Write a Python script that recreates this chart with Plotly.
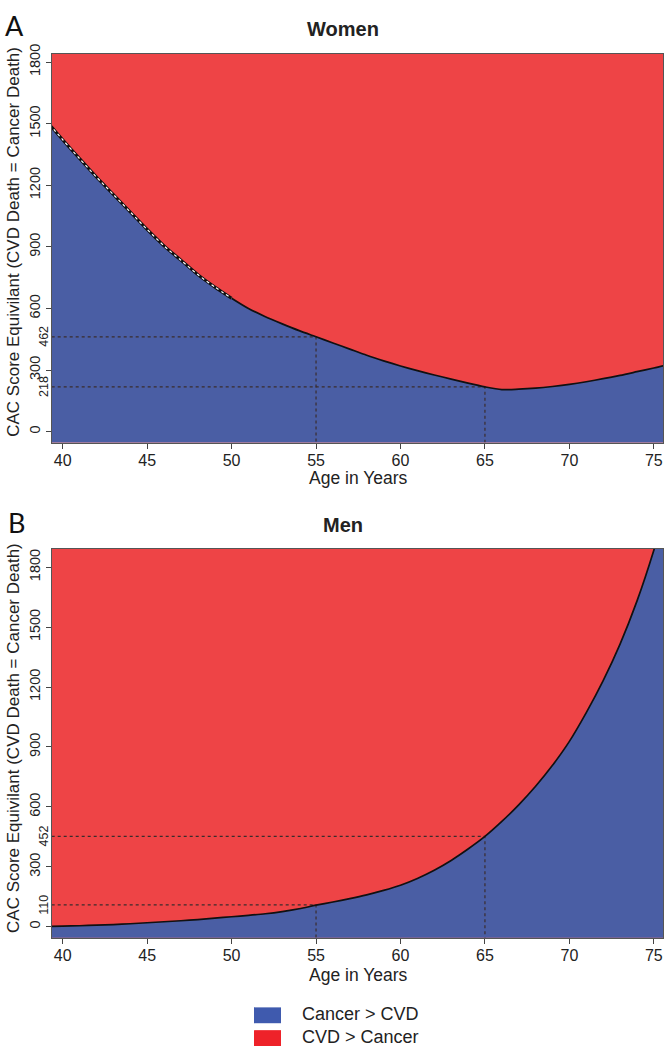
import plotly.graph_objects as go

# ---------------- data ----------------
AGES = [39, 40, 41, 42, 43, 44, 45, 46, 47, 48, 49, 50, 51, 52, 53, 54, 55, 56, 57,
        58, 59, 60, 61, 62, 63, 64, 65, 66, 67, 68, 69, 70, 71, 72, 73, 74, 75, 76]
WOMEN_CAC = [1517, 1422, 1330, 1240, 1155, 1070, 985, 905, 835, 765, 705, 650, 600,
             560, 525, 492, 462, 432, 402, 372, 345, 320, 297, 276, 256, 236, 218,
             205, 207, 212, 220, 230, 243, 258, 274, 292, 310, 330]
MEN_CAC = [1, 3, 5, 8, 11, 15, 20, 25, 30, 36, 43, 50, 57, 65, 76, 90, 108, 124, 141,
           160, 182, 208, 242, 283, 332, 389, 452, 527, 610, 703, 808, 928, 1072, 1232,
           1415, 1630, 1885, 2180]
REF_AGES = [55, 65]
WOMEN_REF = [462, 218]
MEN_REF = [110, 452]
Y_TICKS = [0, 300, 600, 900, 1200, 1500, 1800]
X_TICKS = [40, 45, 50, 55, 60, 65, 70, 75]
PANEL_TITLES = ["Women", "Men"]
PANEL_LETTERS = ["A", "B"]
LEGEND_LABELS = ["Cancer > CVD", "CVD > Cancer"]
X_TITLE = "Age in Years"
Y_TITLE = "CAC Score Equivilant (CVD Death = Cancer Death)"
WHITE_DOT_UNTIL = 50

# ---------------- style ----------------
W, H = 666, 1046
BLUE = "#4A5EA4"
RED = "#EE4446"
LEG_BLUE = "#3F5AAE"
LEG_RED = "#EE2229"
FONT = "Liberation Sans, Arial, Helvetica, sans-serif"
X_RANGE = [39.35, 75.56]
Y_RANGE_A = [-53, 1840]
Y_RANGE_B = [-55, 1892]

PLOT_L, PLOT_R = 51.7, 663.3
A_TOP, A_BOT = 44.3, 436.7
B_TOP, B_BOT = 544.0, 936.7


def fx(p):
    return p / W


def fy(p):
    return 1 - p / H


fig = go.Figure()


def add_panel(xa, ya, vals, yrange, ref_vals, white_dots):
    n = len(AGES)
    floor = yrange[0] - 0.05 * (yrange[1] - yrange[0])  # below the axis, clipped
    fig.add_trace(go.Scatter(x=AGES, y=[floor] * n, mode="lines",
                             line=dict(width=0, color=BLUE), xaxis=xa, yaxis=ya,
                             hoverinfo="skip", showlegend=False))
    fig.add_trace(go.Scatter(x=AGES, y=vals, mode="lines", fill="tonexty",
                             fillcolor=BLUE,
                             line=dict(width=0, color=BLUE, shape="spline",
                                       smoothing=0.8),
                             xaxis=xa, yaxis=ya, showlegend=False))
    for age, v in zip(REF_AGES, ref_vals):
        fig.add_trace(go.Scatter(x=[X_RANGE[0], age, age], y=[v, v, yrange[0]],
                                 mode="lines",
                                 line=dict(color="#3a2c2c", width=1.2, dash="dot"),
                                 xaxis=xa, yaxis=ya, hoverinfo="skip",
                                 showlegend=False))
    fig.add_trace(go.Scatter(x=AGES, y=vals, mode="lines",
                             line=dict(color="#111111", width=1.7, shape="spline",
                                       smoothing=0.8),
                             xaxis=xa, yaxis=ya, showlegend=False))
    if white_dots:
        xs = [a for a in AGES if a <= WHITE_DOT_UNTIL]
        ys = [v for a, v in zip(AGES, vals) if a <= WHITE_DOT_UNTIL]
        fig.add_trace(go.Scatter(x=xs, y=ys, mode="lines",
                                 line=dict(color="#111111", width=3.0, shape="spline",
                                           smoothing=0.8),
                                 xaxis=xa, yaxis=ya, hoverinfo="skip",
                                 showlegend=False))
        fig.add_trace(go.Scatter(x=xs, y=ys, mode="lines",
                                 line=dict(color="white", width=1.2, dash="dot",
                                           shape="spline", smoothing=0.8),
                                 xaxis=xa, yaxis=ya, hoverinfo="skip",
                                 showlegend=False))


add_panel("x", "y", WOMEN_CAC, Y_RANGE_A, WOMEN_REF, True)
add_panel("x2", "y2", MEN_CAC, Y_RANGE_B, MEN_REF, False)

axis_common = dict(showgrid=False, zeroline=False, showline=True, mirror=True,
                   linecolor="#555555", linewidth=1, ticks="outside", ticklen=5,
                   tickcolor="#444444", tickwidth=1)
x_common = dict(tickfont=dict(family=FONT, size=16, color="#222222"),
                ticklabelstandoff=-2, **axis_common)
y_common = dict(tickfont=dict(family=FONT, size=14.5, color="#222222"),
                tickangle=-90, **axis_common)

xdom = [fx(PLOT_L), fx(PLOT_R)]
fig.update_layout(
    width=W, height=H,
    margin=dict(l=0, r=0, t=0, b=0),
    paper_bgcolor="white",
    plot_bgcolor=RED,
    showlegend=False,
    xaxis=dict(domain=xdom, range=X_RANGE, tickvals=X_TICKS, anchor="y", **x_common),
    yaxis=dict(domain=[fy(A_BOT), fy(A_TOP)], range=Y_RANGE_A, tickvals=Y_TICKS,
               anchor="x", **y_common),
    xaxis2=dict(domain=xdom, range=X_RANGE, tickvals=X_TICKS, anchor="y2",
                **x_common),
    yaxis2=dict(domain=[fy(B_BOT), fy(B_TOP)], range=Y_RANGE_B, tickvals=Y_TICKS,
                anchor="x2", **y_common),
)

ann = []
# panel titles and letters
for title, letter, ty, lx, ly in [(PANEL_TITLES[0], PANEL_LETTERS[0], 19, 14, 16),
                                  (PANEL_TITLES[1], PANEL_LETTERS[1], 520, 16, 517)]:
    ann.append(dict(text="<b>%s</b>" % title, x=fx(343), y=fy(ty), xref="paper",
                    yref="paper", showarrow=False, xanchor="center", yanchor="middle",
                    font=dict(family=FONT, size=20, color="#222222")))
    ann.append(dict(text=letter, x=fx(lx), y=fy(ly), xref="paper", yref="paper",
                    showarrow=False, xanchor="center", yanchor="middle",
                    font=dict(family="Lato, Open Sans, sans-serif", size=27,
                              color="#111111", weight=400)))
# axis titles
for cy_x, cy_y in [(473, 234), (974, 735)]:
    ann.append(dict(text=X_TITLE, x=fx(358), y=fy(cy_x), xref="paper", yref="paper",
                    showarrow=False, xanchor="center", yanchor="middle",
                    font=dict(family=FONT, size=17.5, color="#222222")))
    ann.append(dict(text=Y_TITLE, x=fx(14), y=fy(cy_y), xref="paper", yref="paper",
                    showarrow=False, xanchor="center", yanchor="middle",
                    textangle=-90,
                    font=dict(family=FONT, size=17, color="#222222")))
# reference value labels
for yref, refs in [("y", WOMEN_REF), ("y2", MEN_REF)]:
    for v in refs:
        ann.append(dict(text=str(v), x=fx(44), y=v, xref="paper", yref=yref,
                        showarrow=False, xanchor="center", yanchor="middle",
                        textangle=-90,
                        font=dict(family=FONT, size=12.5, color="#222222")))
# legend
shapes = []
for i, (lab, col) in enumerate(zip(LEGEND_LABELS, [LEG_BLUE, LEG_RED])):
    top = 1007 + i * 23
    shapes.append(dict(type="rect", xref="paper", yref="paper",
                       x0=fx(254), x1=fx(281), y0=fy(top + 16), y1=fy(top),
                       fillcolor=col, line=dict(width=0)))
    ann.append(dict(text=lab, x=fx(300), y=fy(top + 6.5), xref="paper",
                    yref="paper", showarrow=False, xanchor="left", yanchor="middle",
                    font=dict(family=FONT, size=18, color="#222222")))

fig.update_layout(annotations=ann, shapes=shapes)
fig.write_html(
    "out.html",
    config={"displayModeBar": False},
    post_script="document.body.style.margin='0';document.body.style.overflow='hidden';",
)
